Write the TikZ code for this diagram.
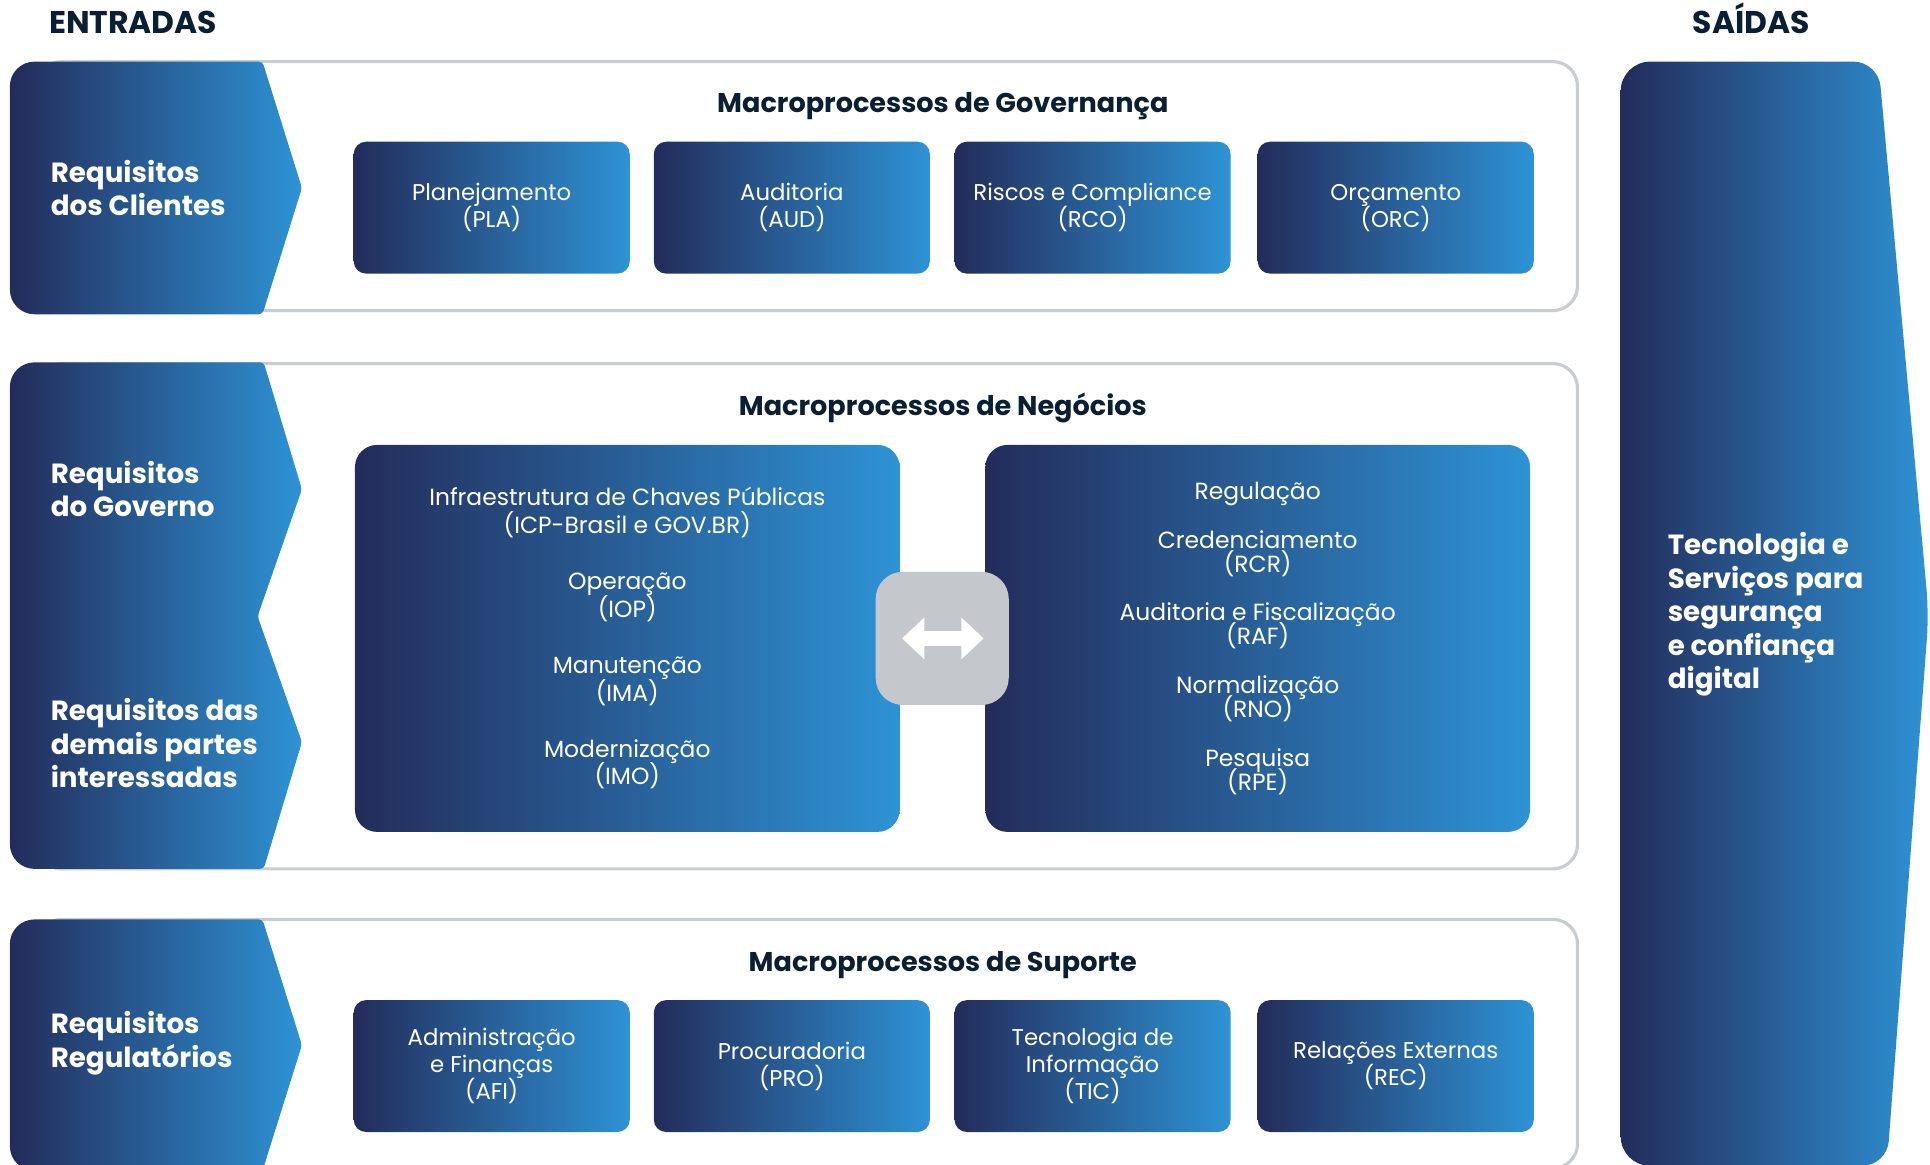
\documentclass[tikz,border=0pt]{standalone}
\usepackage{fontspec}
\setmainfont{Poppins}
\usetikzlibrary{calc}
\definecolor{navy}{HTML}{232C5A}
\definecolor{sky}{HTML}{2E93D5}
\definecolor{ttl}{HTML}{0B1F33}
\definecolor{frame}{HTML}{C8CDD2}
\definecolor{swap}{HTML}{C4C8CC}
\newcommand\nolsk{\lineskiplimit-20pt\relax}
\newcommand\entshape[2]{%
  \begin{scope}
    \clip[rounded corners=20pt] (8,#1) rectangle (270,#2);
    \clip[rounded corners=3pt] (0,#1) -- (213,#1) -- (245,{(#1+#2)/2}) -- (213,#2) -- (0,#2) -- cycle;
    \shade[left color=navy,right color=sky] (8,#1) rectangle (245,#2);
  \end{scope}}
\begin{document}
\begin{tikzpicture}[x=1pt,y=-1pt,
  outerframe/.style={draw=frame,line width=2.6pt,rounded corners=20pt},
  procbox/.style={rounded corners=10pt,left color=navy,right color=sky,draw=none,
    minimum width=224pt,minimum height=107pt,text=white,align=center,
    font=\fontsize{18.5}{22}\selectfont\nolsk,inner sep=0pt},
  bigbox/.style={rounded corners=18pt,left color=navy,right color=sky,draw=none,
    minimum width=442pt,minimum height=314pt,inner sep=0pt},
  listtext/.style={text=white,align=center,inner sep=0pt},
  sectitle/.style={text=ttl,font=\bfseries\fontsize{22}{24}\selectfont,anchor=base,inner sep=0pt},
  headtitle/.style={text=ttl,font=\bfseries\fontsize{25.5}{28}\selectfont,anchor=base,inner sep=0pt},
  entlabel/.style={text=white,font=\bfseries\fontsize{22.5}{27}\selectfont,align=left,anchor=west,inner sep=0pt}
]
\useasboundingbox (0,0) rectangle (1566,944.5);
\clip (0,0) rectangle (1566,944.5);

% headings
\node[headtitle] (entradas) at (108,27) {ENTRADAS};
\node[headtitle] (saidas) at (1421,27) {SAÍDAS};

% outer frames
\draw[outerframe] (30,50) rectangle (1280,252);
\draw[outerframe] (30,295) rectangle (1280,705);
\draw[outerframe] (30,746) rectangle (1280,948);

% entry arrows
\entshape{50}{255}
\begin{scope}
  \clip[rounded corners=20pt] (8,294) rectangle (270,705);
  \clip[rounded corners=3pt] (0,294) -- (214,294) -- (245,397) -- (209,500) -- (245,602) -- (214,705) -- (0,705) -- cycle;
  \shade[left color=navy,right color=sky] (8,294) rectangle (245,705);
\end{scope}
\entshape{746}{950}

\node[entlabel] (rc) at (41,152.5) {Requisitos\\dos Clientes};
\node[entlabel] (rg) at (41,397) {Requisitos\\do Governo};
\node[entlabel] (rd) at (41,603) {Requisitos das\\demais partes\\interessadas};
\node[entlabel] (rr) at (41,846.5) {Requisitos\\Regulatórios};

% output arrow
\begin{scope}
  \clip[rounded corners=24pt] (1315,50) rectangle (1580,946);
  \clip[rounded corners=20pt] (1300,50) -- (1524,50) -- (1565,498) -- (1531,946) -- (1300,946) -- cycle;
  \shade[left color=navy,right color=sky] (1315,50) rectangle (1566,946);
\end{scope}
\node[text=white,font=\bfseries\fontsize{22.5}{27.3}\selectfont,align=left,anchor=west,inner sep=0pt]
  (out) at (1353,498.5) {Tecnologia e\\Serviços para\\segurança\\e confiança\\digital};

% Governança
\node[sectitle] (tgov) at (765,91) {Macroprocessos de Governança};
\node[procbox] (pla) at (399,168.5) {Planejamento\\(PLA)};
\node[procbox] (aud) at (642.5,168.5) {Auditoria\\(AUD)};
\node[procbox] (rco) at (886.5,168.5) {Riscos e Compliance\\(RCO)};
\node[procbox] (orc) at (1132.5,168.5) {Orçamento\\(ORC)};

% Negócios
\node[sectitle] (tneg) at (765,337) {Macroprocessos de Negócios};
\node[bigbox] (icp) at (509,518) {};
\node[bigbox] (reg) at (1020.5,518) {};
\node[listtext,font=\fontsize{19}{22.5}\selectfont\nolsk] (icpt) at (icp.center)
  {Infraestrutura de Chaves Públicas\\(ICP-Brasil e GOV.BR)\\[23pt]Operação\\(IOP)\\[23pt]Manutenção\\(IMA)\\[23pt]Modernização\\(IMO)};
\node[listtext,font=\fontsize{19}{19.5}\selectfont\nolsk] (regt) at (reg.center)
  {Regulação\\[20pt]Credenciamento\\(RCR)\\[20pt]Auditoria e Fiscalização\\(RAF)\\[20pt]Normalização\\(RNO)\\[20pt]Pesquisa\\(RPE)};
\node[fill=swap,rounded corners=22pt,minimum width=108pt,minimum height=108pt,inner sep=0pt] (sw) at (764.5,518) {};
\fill[white] (732,518) -- (750,501) -- (750,512) -- (780,512) -- (780,501) -- (798,518)
  -- (780,535) -- (780,524) -- (750,524) -- (750,535) -- cycle;

% Suporte
\node[sectitle] (tsup) at (765,788) {Macroprocessos de Suporte};
\node[procbox] (afi) at (399,865) {Administração\\e Finanças\\(AFI)};
\node[procbox] (pro) at (642.5,865) {Procuradoria\\(PRO)};
\node[procbox] (tic) at (886.5,865) {Tecnologia de\\Informação\\(TIC)};
\node[procbox] (rec) at (1132.5,865) {Relações Externas\\(REC)};
\end{tikzpicture}
\end{document}
